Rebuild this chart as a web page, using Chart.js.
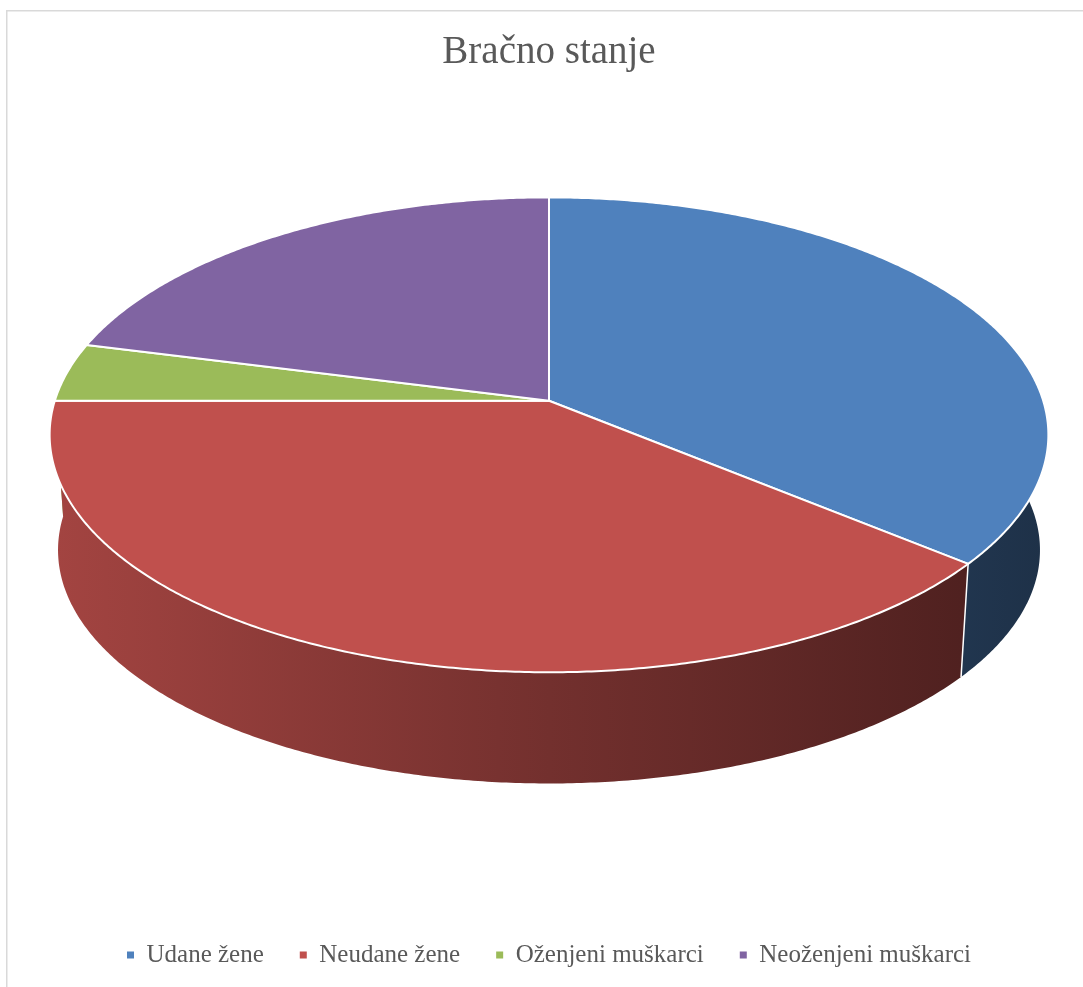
<!DOCTYPE html>
<html><head><meta charset="utf-8">
<script src="https://cdn.jsdelivr.net/npm/chart.js@4"></script>
<style>html,body{margin:0;padding:0;background:#fff;overflow:hidden}#wrap{width:1083px;height:987px;position:relative}</style>
</head><body><div id="wrap"><canvas id="c"></canvas></div>
<script>
const chartTitle = 'Bračno stanje';
const categories = ['Udane žene', 'Neudane žene', 'Oženjeni muškarci', 'Neoženjeni muškarci'];
const values = [36, 39, 4, 21];
const colors = ['#4F81BD', '#C0504D', '#9BBB59', '#8064A2'];

function shade(hex, f) {
  const n = parseInt(hex.slice(1), 16);
  const r = Math.round(((n >> 16) & 255) * f), g = Math.round(((n >> 8) & 255) * f), b = Math.round((n & 255) * f);
  return `rgb(${r},${g},${b})`;
}

const frame = {
  id: 'frame',
  beforeDraw(chart) {
    const ctx = chart.ctx;
    ctx.save();
    ctx.strokeStyle = '#D9D9D9';
    ctx.lineWidth = 1.5;
    ctx.strokeRect(6.75, 10.75, 3000, 3000);
    ctx.restore();
  }
};

const pie3d = {
  id: 'pie3d',
  beforeDatasetsDraw(chart) {
    const meta = chart.getDatasetMeta(0);
    const arcs = meta.data;
    if (!arcs.length) return;
    const ctx = chart.ctx;
    const p0 = arcs[0].getProps(['x', 'y', 'outerRadius'], true);
    const R = p0.outerRadius;
    const k = 0.1435;
    const A = R * 1.2192, B = R * 0.5737, A2 = R * 1.1987, B2 = R * 0.5640, D = R * 0.2857;
    const ox = p0.x, oy = p0.y - R * 0.2477;
    const top = t => { const u = Math.cos(t), v = Math.sin(t), w = 1 - k * v; return [ox + A * u / w, oy + B * v / w]; };
    const bot = t => { const u = Math.cos(t), v = Math.sin(t), w = 1 - k * v; return [ox + A2 * u / w, oy + D + B2 * v / w]; };
    const steps = (a, b) => Math.max(2, Math.ceil((b - a) * 120));
    const lo = -0.3, hi = Math.PI + 0.3;
    ctx.save();
    // side walls: collect visible pieces, draw back-most first
    const pieces = [];
    arcs.forEach((arc, i) => {
      const { startAngle: s, endAngle: e } = arc.getProps(['startAngle', 'endAngle'], true);
      const a = Math.max(s, lo), b = Math.min(e, hi);
      if (b > a) pieces.push({ i, a, b, depth: Math.abs((a + b) / 2 - Math.PI / 2) });
    });
    pieces.sort((p, q) => q.depth - p.depth);
    pieces.forEach(({ i, a, b }) => {
      const g = ctx.createLinearGradient(ox - A, 0, ox + A, 0);
      g.addColorStop(0, shade(colors[i], 0.85));
      g.addColorStop(0.5, shade(colors[i], 0.6));
      g.addColorStop(1, shade(colors[i], 0.38));
      ctx.beginPath();
      const n = steps(a, b);
      // union of swept quads (same winding, nonzero fill)
      for (let j = 0; j < n; j++) {
        const t0 = a + (b - a) * j / n, t1 = a + (b - a) * (j + 1) / n;
        const p1 = top(t0), p2 = top(t1), p3 = bot(t1), p4 = bot(t0);
        ctx.moveTo(p1[0], p1[1]); ctx.lineTo(p2[0], p2[1]); ctx.lineTo(p3[0], p3[1]); ctx.lineTo(p4[0], p4[1]); ctx.closePath();
      }
      ctx.fillStyle = g;
      ctx.fill('nonzero');
    });
    // wall seams
    ctx.strokeStyle = '#FFFFFF';
    ctx.lineWidth = 1.5;
    arcs.forEach(arc => {
      const { startAngle: s } = arc.getProps(['startAngle'], true);
      if (s > 0.05 && s < Math.PI - 0.05) {
        const p = top(s), q = bot(s);
        ctx.beginPath(); ctx.moveTo(p[0], p[1]); ctx.lineTo(q[0], q[1]); ctx.stroke();
      }
    });
    // top faces
    ctx.lineJoin = 'round';
    ctx.lineWidth = 2;
    arcs.forEach((arc, i) => {
      const { startAngle: s, endAngle: e } = arc.getProps(['startAngle', 'endAngle'], true);
      ctx.beginPath();
      ctx.moveTo(ox, oy);
      const n = steps(s, e);
      for (let j = 0; j <= n; j++) { const p = top(s + (e - s) * j / n); ctx.lineTo(p[0], p[1]); }
      ctx.closePath();
      ctx.fillStyle = colors[i];
      ctx.fill();
      ctx.strokeStyle = '#FFFFFF';
      ctx.stroke();
    });
    ctx.restore();
    return false;
  }
};

new Chart(document.getElementById('c'), {
  type: 'pie',
  data: {
    labels: categories,
    datasets: [{ data: values, backgroundColor: colors, borderColor: '#FFFFFF', borderWidth: 0 }]
  },
  options: {
    responsive: true,
    maintainAspectRatio: false,
    animation: false,
    devicePixelRatio: 1,
    layout: { padding: { top: 10, left: 17, right: 2, bottom: 9.5 } },
    plugins: {
      title: {
        display: true,
        text: chartTitle,
        color: '#595959',
        font: { family: "'Liberation Serif', serif", size: 39, weight: 'normal' },
        padding: { top: 19, bottom: 20 }
      },
      legend: {
        position: 'bottom',
        labels: {
          color: '#595959',
          font: { family: "'Liberation Serif', serif", size: 25 },
          usePointStyle: true,
          pointStyle: 'rect',
          boxWidth: 7,
          boxHeight: 7,
          padding: 36
        }
      },
      tooltip: { enabled: false }
    }
  },
  plugins: [frame, pie3d]
});
</script></body></html>
